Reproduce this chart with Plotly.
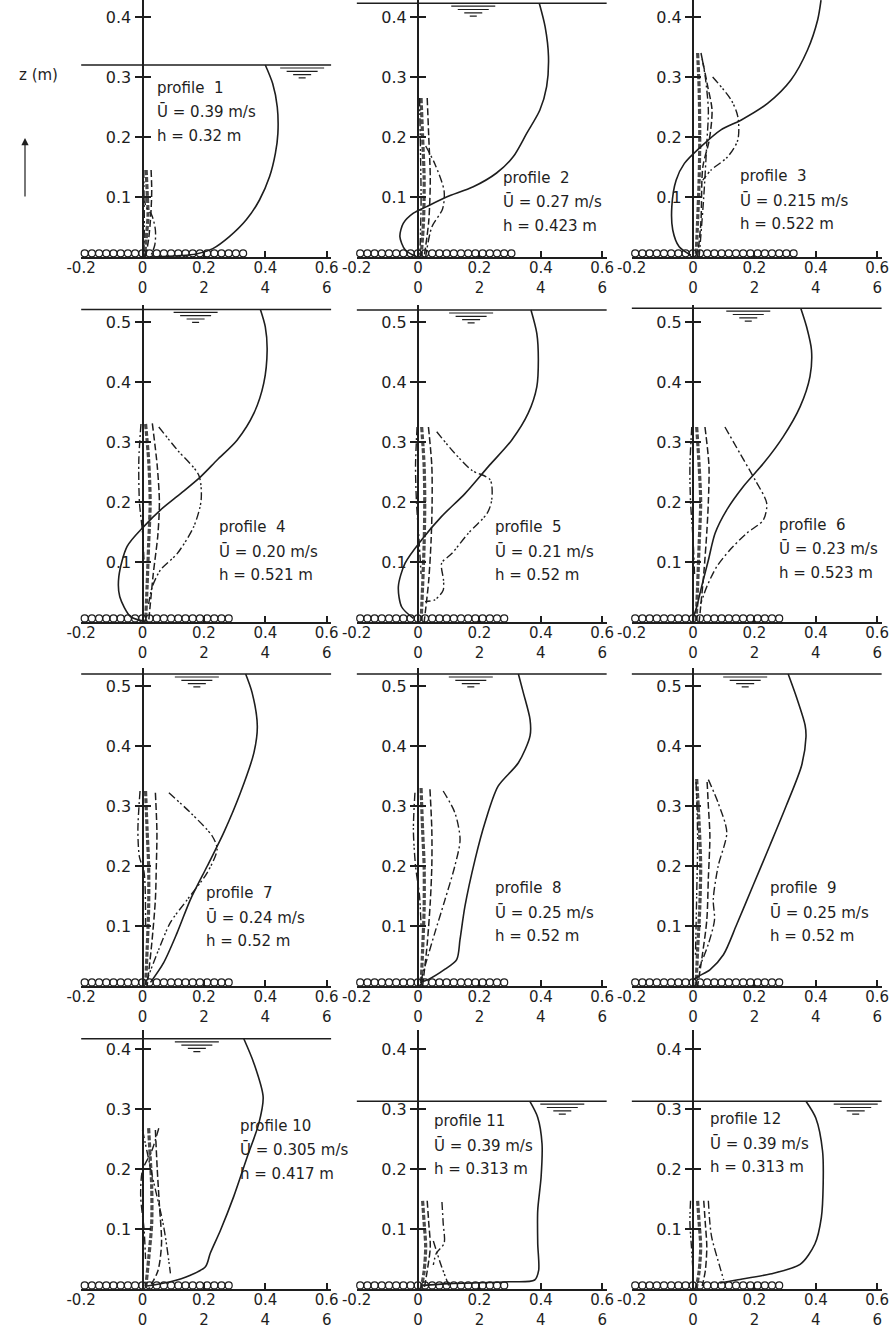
import numpy as np
import plotly.graph_objects as go

W, H = 895, 1334
INK = "#1e1e1e"
FONT = "DejaVu Sans"

# ---------------- data ----------------
profile_no = [1, 2, 3, 4, 5, 6, 7, 8, 9, 10, 11, 12]
u_mean_txt = ["0.39", "0.27", "0.215", "0.20", "0.21", "0.23", "0.24", "0.25", "0.25", "0.305", "0.39", "0.39"]
depth_txt = ["0.32", "0.423", "0.522", "0.521", "0.52", "0.523", "0.52", "0.52", "0.52", "0.417", "0.313", "0.313"]
depth = [0.32, 0.423, 0.522, 0.521, 0.52, 0.523, 0.52, 0.52, 0.52, 0.417, 0.313, 0.313]

# mean velocity profiles (u in m/s, z in m)
vel_u = [
    [0.40, 0.424, 0.439, 0.441, 0.433, 0.414, 0.381, 0.338, 0.283, 0.229, 0.175, 0.023],
    [0.395, 0.414, 0.425, 0.419, 0.397, 0.354, 0.31, 0.256, 0.18, 0.093, 0.028, -0.015, -0.048, -0.059, -0.042, -0.004],
    [0.417, 0.406, 0.373, 0.319, 0.243, 0.156, 0.091, 0.026, -0.028, -0.055, -0.069, -0.066, -0.045, -0.007],
    [0.384, 0.40, 0.406, 0.395, 0.363, 0.308, 0.243, 0.189, 0.124, 0.059, 0.004, -0.05, -0.077, -0.074, -0.039, 0.0],
    [0.368, 0.387, 0.392, 0.387, 0.359, 0.305, 0.229, 0.153, 0.077, 0.012, -0.042, -0.064, -0.053, -0.015],
    [0.351, 0.37, 0.386, 0.381, 0.349, 0.294, 0.229, 0.164, 0.11, 0.072, 0.05, 0.028, 0.012, 0.0],
    [0.336, 0.357, 0.374, 0.363, 0.319, 0.265, 0.211, 0.156, 0.113, 0.069, 0.026],
    [0.327, 0.343, 0.365, 0.365, 0.327, 0.261, 0.218, 0.186, 0.153, 0.137, 0.126, 0.088, 0.034, 0.007],
    [0.31, 0.338, 0.365, 0.368, 0.354, 0.305, 0.251, 0.196, 0.142, 0.099, 0.055, 0.017, 0.0],
    [0.33, 0.363, 0.393, 0.379, 0.341, 0.297, 0.254, 0.221, 0.205, 0.156, 0.091, 0.015],
    [0.364, 0.39, 0.404, 0.401, 0.39, 0.39, 0.393, 0.38, 0.296, 0.101, 0.014],
    [0.368, 0.40, 0.422, 0.424, 0.418, 0.397, 0.349, 0.251, 0.142, 0.088],
]
vel_z = [
    [0.32, 0.289, 0.25, 0.206, 0.173, 0.134, 0.095, 0.062, 0.034, 0.014, 0.005, 0.0],
    [0.423, 0.384, 0.334, 0.284, 0.245, 0.206, 0.167, 0.14, 0.117, 0.10, 0.084, 0.073, 0.056, 0.034, 0.012, 0.0],
    [0.428, 0.395, 0.345, 0.295, 0.256, 0.228, 0.212, 0.184, 0.156, 0.128, 0.084, 0.045, 0.017, 0.003],
    [0.521, 0.492, 0.453, 0.398, 0.348, 0.303, 0.27, 0.242, 0.214, 0.187, 0.159, 0.126, 0.076, 0.042, 0.009, 0.002],
    [0.52, 0.481, 0.437, 0.392, 0.348, 0.303, 0.259, 0.214, 0.176, 0.137, 0.098, 0.059, 0.025, 0.006],
    [0.523, 0.492, 0.453, 0.409, 0.359, 0.309, 0.264, 0.226, 0.187, 0.148, 0.103, 0.059, 0.025, 0.006],
    [0.52, 0.489, 0.433, 0.389, 0.322, 0.256, 0.20, 0.144, 0.089, 0.039, 0.006],
    [0.52, 0.489, 0.444, 0.417, 0.372, 0.333, 0.272, 0.211, 0.133, 0.078, 0.044, 0.028, 0.011, 0.006],
    [0.52, 0.48, 0.435, 0.415, 0.368, 0.302, 0.235, 0.168, 0.102, 0.052, 0.027, 0.016, 0.01],
    [0.417, 0.376, 0.32, 0.276, 0.22, 0.154, 0.098, 0.06, 0.037, 0.023, 0.012, 0.005],
    [0.313, 0.286, 0.242, 0.187, 0.131, 0.076, 0.031, 0.015, 0.012, 0.009, 0.006],
    [0.313, 0.285, 0.23, 0.174, 0.119, 0.075, 0.041, 0.025, 0.015, 0.01],
]

# fluctuation profiles (dark band, dashed, dash-dot, dash-dot-dot)
band_u = [
    [0.012, 0.015, 0.018, 0.012, 0.006], [0.01, 0.015, 0.02, 0.018, 0.01],
    [0.015, 0.02, 0.022, 0.02, 0.015, 0.01], [0.01, 0.02, 0.025, 0.02, 0.015, 0.01],
    [0.012, 0.02, 0.022, 0.02, 0.015, 0.01], [0.012, 0.02, 0.025, 0.02, 0.015, 0.01],
    [0.01, 0.015, 0.02, 0.02, 0.015, 0.01], [0.01, 0.015, 0.02, 0.02, 0.015, 0.01],
    [0.012, 0.02, 0.025, 0.022, 0.015, 0.01], [0.02, 0.025, 0.03, 0.03, 0.02, 0.01],
    [0.015, 0.02, 0.025, 0.02, 0.01], [0.015, 0.02, 0.025, 0.02, 0.01],
]
band_z = [
    [0.145, 0.11, 0.07, 0.03, 0.0], [0.265, 0.2, 0.13, 0.06, 0.0],
    [0.34, 0.28, 0.2, 0.13, 0.06, 0.0], [0.33, 0.27, 0.2, 0.13, 0.06, 0.0],
    [0.325, 0.26, 0.2, 0.13, 0.06, 0.0], [0.325, 0.26, 0.2, 0.13, 0.06, 0.0],
    [0.325, 0.26, 0.2, 0.13, 0.06, 0.0], [0.33, 0.26, 0.2, 0.13, 0.06, 0.0],
    [0.345, 0.27, 0.2, 0.13, 0.06, 0.0], [0.268, 0.22, 0.17, 0.11, 0.05, 0.0],
    [0.147, 0.11, 0.07, 0.03, 0.0], [0.147, 0.11, 0.07, 0.03, 0.0],
]
dash_u = [
    [0.028, 0.03, 0.027, 0.02, 0.01], [0.03, 0.035, 0.04, 0.035, 0.02],
    [0.026, 0.048, 0.062, 0.053, 0.032, 0.026, 0.015], [0.032, 0.048, 0.055, 0.05, 0.035, 0.02],
    [0.034, 0.045, 0.046, 0.043, 0.035, 0.02], [0.039, 0.052, 0.05, 0.045, 0.035, 0.02],
    [0.042, 0.047, 0.045, 0.042, 0.03, 0.015], [0.039, 0.045, 0.045, 0.04, 0.03, 0.015],
    [0.046, 0.05, 0.055, 0.05, 0.045, 0.03, 0.015], [0.042, 0.048, 0.055, 0.062, 0.05, 0.02],
    [0.03, 0.035, 0.04, 0.03, 0.02], [0.035, 0.04, 0.045, 0.04, 0.03],
]
dash_z = [
    [0.145, 0.11, 0.07, 0.03, 0.0], [0.265, 0.2, 0.13, 0.06, 0.0],
    [0.34, 0.284, 0.245, 0.195, 0.15, 0.06, 0.0], [0.331, 0.26, 0.2, 0.145, 0.08, 0.0],
    [0.325, 0.26, 0.2, 0.14, 0.07, 0.0], [0.325, 0.26, 0.2, 0.15, 0.08, 0.0],
    [0.322, 0.256, 0.2, 0.144, 0.07, 0.0], [0.328, 0.26, 0.2, 0.14, 0.07, 0.0],
    [0.34, 0.3, 0.25, 0.18, 0.11, 0.05, 0.0], [0.265, 0.2, 0.14, 0.076, 0.03, 0.0],
    [0.147, 0.11, 0.07, 0.03, 0.0], [0.147, 0.11, 0.07, 0.03, 0.005],
]
dd_u = [
    [0.008, 0.01, 0.03, 0.042, 0.04, 0.025], [0.025, 0.055, 0.085, 0.08, 0.045, 0.025],
    [0.03, 0.04, 0.05, 0.045, 0.035, 0.02], [-0.005, -0.012, -0.01, 0.0, 0.005],
    [-0.003, -0.008, -0.005, 0.003, 0.01],
    [0.104, 0.153, 0.202, 0.24, 0.229, 0.175, 0.12, 0.077, 0.045, 0.025],
    [-0.008, -0.015, -0.01, 0.005, 0.01], [0.082, 0.12, 0.137, 0.12, 0.088, 0.055, 0.029, 0.01],
    [0.05, 0.082, 0.11, 0.082, 0.066, 0.07, 0.05, 0.02], [0.053, 0.03, 0.0, -0.006, 0.005, 0.01],
    [0.078, 0.082, 0.085, 0.06, 0.05], [0.05, 0.055, 0.061, 0.088, 0.1],
]
dd_z = [
    [0.1, 0.085, 0.07, 0.045, 0.02, 0.0], [0.185, 0.155, 0.11, 0.08, 0.05, 0.0],
    [0.33, 0.3, 0.245, 0.19, 0.1, 0.0], [0.33, 0.27, 0.2, 0.15, 0.1],
    [0.325, 0.26, 0.2, 0.14, 0.08],
    [0.325, 0.281, 0.237, 0.198, 0.17, 0.148, 0.12, 0.092, 0.059, 0.03],
    [0.325, 0.26, 0.215, 0.19, 0.1], [0.325, 0.289, 0.244, 0.2, 0.144, 0.089, 0.044, 0.01],
    [0.344, 0.305, 0.256, 0.2, 0.144, 0.11, 0.07, 0.03], [0.268, 0.23, 0.198, 0.155, 0.1, 0.05],
    [0.145, 0.11, 0.076, 0.06, 0.04], [0.147, 0.11, 0.086, 0.036, 0.015],
]
ddd_u = [
    [0.004, 0.005, 0.006, 0.004], [0.005, 0.008, 0.01, 0.006],
    [0.064, 0.124, 0.146, 0.146, 0.113, 0.059, 0.032],
    [0.053, 0.113, 0.183, 0.191, 0.167, 0.113, 0.059, 0.032, 0.02],
    [0.061, 0.12, 0.175, 0.235, 0.24, 0.225, 0.164, 0.11, 0.077, 0.083, 0.082, 0.055, 0.023],
    [-0.004, -0.01, -0.008, 0.0, 0.005],
    [0.086, 0.156, 0.227, 0.243, 0.211, 0.146, 0.091, 0.053, 0.016],
    [-0.01, -0.015, -0.008, 0.005, 0.01], [0.01, 0.015, 0.012, 0.008],
    [0.0, 0.032, 0.069, 0.091], [0.05, 0.075, 0.1], [-0.008, -0.01, -0.005, 0.0],
]
ddd_z = [
    [0.145, 0.1, 0.05, 0.0], [0.265, 0.18, 0.09, 0.0],
    [0.3, 0.262, 0.234, 0.195, 0.167, 0.145, 0.128],
    [0.325, 0.287, 0.245, 0.203, 0.159, 0.114, 0.087, 0.059, 0.03],
    [0.317, 0.281, 0.253, 0.237, 0.203, 0.181, 0.148, 0.114, 0.098, 0.07, 0.053, 0.037, 0.034],
    [0.325, 0.26, 0.2, 0.14, 0.08],
    [0.322, 0.289, 0.25, 0.228, 0.189, 0.144, 0.106, 0.061, 0.012],
    [0.322, 0.26, 0.2, 0.15, 0.1], [0.34, 0.25, 0.15, 0.05],
    [0.265, 0.188, 0.104, 0.026], [0.08, 0.04, 0.006], [0.147, 0.11, 0.07, 0.03],
]

# label anchor (left edge u, z of first line) and water-level symbol centre
label_u = [0.04, 0.27, 0.147, 0.244, 0.244, 0.274, 0.2, 0.244, 0.244, 0.31, 0.046, 0.05]
label_z = [0.282, 0.132, 0.135, 0.158, 0.158, 0.162, 0.155, 0.163, 0.163, 0.272, 0.28, 0.283]
symbol_u = [0.52, 0.18, 0.18, 0.173, 0.173, 0.18, 0.177, 0.172, 0.17, 0.177, 0.47, 0.53]
bed_end = [0.34, 0.31, 0.33, 0.30, 0.30, 0.30, 0.30, 0.30, 0.30, 0.30, 0.30, 0.30]

x_tickvals = [-0.2, 0, 0.2, 0.4, 0.6]
x_ticktext = ["-0.2", "0<br>0", "0.2<br>2", "0.4<br>4", "0.6<br>6"]

# ---------------- layout geometry ----------------
col_x0 = [142.5, 418, 693]
row_yb = [257, 622, 986, 1289]
row_top = [0, 305, 668, 1030]
PX_U, PX_Z = 307.0, 600.0
U_MIN, U_MAX = -0.2, 0.615
GRAIN = 7.2 / PX_U

fig = go.Figure()
layout = {}
annotations = []

for i in range(12):
    r, c = divmod(i, 3)
    n = i + 1
    sfx = "" if n == 1 else str(n)
    xa, ya = "x" + sfx, "y" + sfx
    x0, yb, yt = col_x0[c], row_yb[r], row_top[r]
    zmax = (yb - yt) / PX_Z
    left, right = x0 + U_MIN * PX_U, x0 + U_MAX * PX_U
    ytv = [0.1, 0.2, 0.3, 0.4] if r in (0, 3) else [0.1, 0.2, 0.3, 0.4, 0.5]

    layout["xaxis" + sfx] = dict(
        domain=[left / W, right / W], range=[U_MIN, U_MAX], anchor=ya,
        automargin=False, showline=True, linewidth=2, linecolor=INK,
        ticks="inside", ticklen=6, tickwidth=1.5, tickcolor=INK,
        tickvals=x_tickvals, ticktext=x_ticktext, ticklabelstandoff=-4,
        tickfont=dict(family=FONT, size=15, color=INK), showgrid=False,
        zeroline=False, fixedrange=True)
    common_y = dict(domain=[1 - yb / H, 1 - yt / H], range=[0, zmax],
                    autorange=False, automargin=False, anchor="free",
                    position=x0 / W, tickvals=ytv, showgrid=False,
                    zeroline=False, ticks="outside", ticklen=7, tickwidth=1.5,
                    tickcolor=INK, fixedrange=True)
    layout["yaxis" + sfx] = dict(
        **common_y, showline=True, linewidth=2, linecolor=INK, side="left",
        ticktext=[f"{v:.1f}" for v in ytv],
        tickfont=dict(family=FONT, size=16, color=INK))
    layout["yaxis" + str(n + 12)] = dict(
        **common_y, overlaying=ya, side="right", showline=False,
        showticklabels=False)
    # invisible anchor trace so the right-hand tick axis is drawn
    fig.add_trace(go.Scatter(x=[0], y=[0.1], mode="markers", xaxis=xa,
                             yaxis="y" + str(n + 12), opacity=0,
                             showlegend=False, hoverinfo="skip"))

    def add(u, z, width, dash, color=INK):
        fig.add_trace(go.Scatter(x=u, y=z, mode="lines", xaxis=xa, yaxis=ya,
                                 line=dict(color=color, width=width, dash=dash,
                                           shape="spline", smoothing=0.8),
                                 showlegend=False, hoverinfo="skip"))

    # fluctuation profiles
    add(band_u[i], band_z[i], 3.2, "5px,2px", "#4a4a4a")
    add(dash_u[i], dash_z[i], 1.5, "7px,3px")
    add(dd_u[i], dd_z[i], 1.4, "8px,3px,2px,3px")
    add(ddd_u[i], ddd_z[i], 1.4, "8px,3px,2px,2px,2px,3px")
    # mean velocity
    add(vel_u[i], vel_z[i], 1.6, "solid")

    # water surface
    h = depth[i]
    fig.add_trace(go.Scatter(x=[U_MIN, U_MAX], y=[h, h], mode="lines",
                             xaxis=xa, yaxis=ya, line=dict(color=INK, width=1.5),
                             showlegend=False, hoverinfo="skip"))
    # water level symbol
    for k, (wpx, dpx) in enumerate(zip([44, 31, 18, 7], [3.0, 6.3, 9.6, 12.9])):
        cu, hw = symbol_u[i], wpx / PX_U / 2
        zz = h - dpx / PX_Z
        fig.add_trace(go.Scatter(x=[cu - hw, cu + hw], y=[zz, zz], mode="lines",
                                 xaxis=xa, yaxis=ya,
                                 line=dict(color=INK, width=1.2),
                                 showlegend=False, hoverinfo="skip"))
    # bed grains
    gx = np.arange(U_MIN + GRAIN / 2, bed_end[i], GRAIN)
    fig.add_trace(go.Scatter(x=gx, y=np.full(len(gx), 3.6 / PX_Z), mode="markers",
                             xaxis=xa, yaxis=ya, cliponaxis=False,
                             marker=dict(symbol="circle-open", size=7, color=INK,
                                         line=dict(color=INK, width=1.2)),
                             showlegend=False, hoverinfo="skip"))

    # labels
    lines = [f"profile\u00a0 {profile_no[i]}" if profile_no[i] < 10 else f"profile {profile_no[i]}",
             f"\u016a = {u_mean_txt[i]} m/s",
             f"h = {depth_txt[i]} m"]
    for k, t in enumerate(lines):
        annotations.append(dict(x=label_u[i], y=label_z[i] - k * 0.04,
                                xref=xa, yref=ya, text=t, showarrow=False,
                                xanchor="left", yanchor="middle",
                                font=dict(family=FONT, size=15, color=INK)))

annotations.append(dict(x=38 / W, y=1 - 75 / H, xref="paper", yref="paper",
                        text="z (m)", showarrow=False, xanchor="center",
                        yanchor="middle", font=dict(family=FONT, size=15, color=INK)))
annotations.append(dict(x=25 / W, y=1 - 138 / H, ax=0, ay=60,
                        xref="paper", yref="paper", axref="pixel", ayref="pixel",
                        text="", showarrow=True, arrowhead=2, arrowsize=1.2,
                        arrowwidth=1.2, arrowcolor=INK))

fig.update_layout(width=W, height=H, margin=dict(l=0, r=0, t=0, b=0, pad=0),
                  paper_bgcolor="white", plot_bgcolor="rgba(0,0,0,0)",
                  annotations=annotations, **layout)
fig.write_html("out.html", config={"displayModeBar": False},
               post_script="document.body.style.margin='0px';document.body.style.overflow='hidden';")
